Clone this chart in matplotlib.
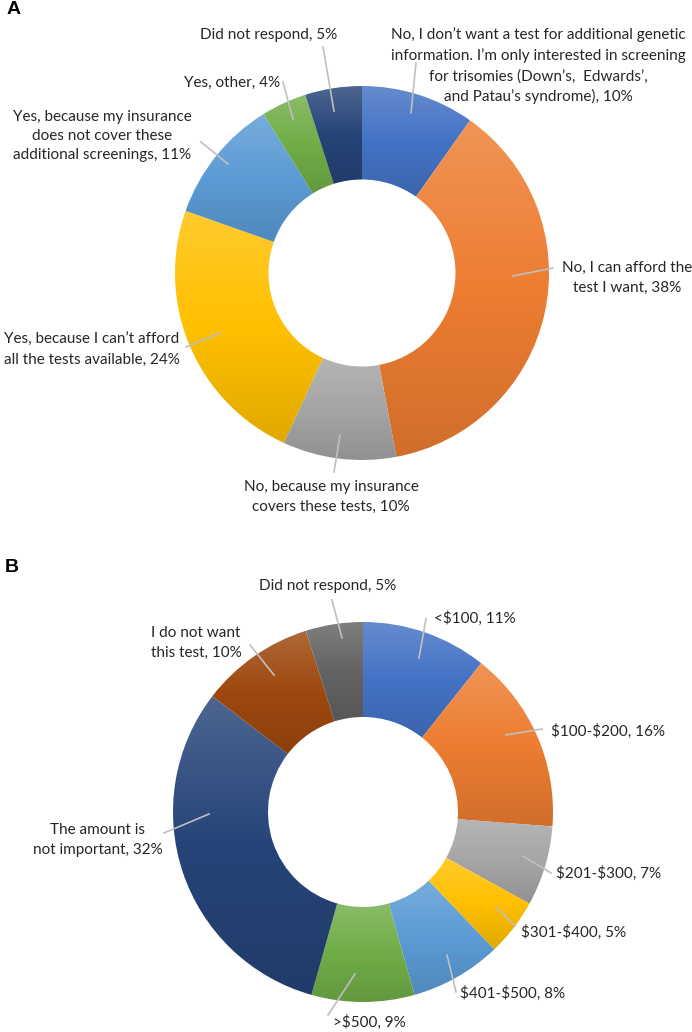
import matplotlib
matplotlib.use('Agg')
import matplotlib.pyplot as plt
import numpy as np
from matplotlib.colors import to_rgb

plt.rcParams['font.family'] = ['Lato', 'DejaVu Sans']

# panel A: why would you choose a cheaper test
a_labels = ['No, I don\u2019t want a test for additional genetic\ninformation. I\u2019m only interested in screening\nfor trisomies (Down\u2019s,  Edwards\u2019,\nand Patau\u2019s syndrome)',
            'No, I can afford the\ntest I want',
            'No, because my insurance\ncovers these tests',
            'Yes, because I can\u2019t afford\nall the tests available',
            'Yes, because my insurance\ndoes not cover these\nadditional screenings',
            'Yes, other',
            'Did not respond']
a_values = [10, 38, 10, 24, 11, 4, 5]
a_colors = ['#4472C4', '#ED7D31', '#A5A5A5', '#FFC000', '#5B9BD5', '#70AD47', '#264478']

# panel B: how much would you pay
b_labels = ['<$100', '$100-$200', '$201-$300', '$301-$400', '$401-$500', '>$500',
            'The amount is\nnot important', 'I do not want\nthis test', 'Did not respond']
b_values = [11, 16, 7, 5, 8, 9, 32, 10, 5]
b_colors = ['#4472C4', '#ED7D31', '#A5A5A5', '#FFC000', '#5B9BD5', '#70AD47',
            '#264478', '#9E480E', '#636363']

W, H = 692, 1032

# label placement in pixels: (text x, text y, line start, line end)
a_pos = [(538, 66, (416, 63), (411, 113)),
         (627, 278, (553, 268), (513, 276)),
         (331, 497, (334, 472), (340, 435)),
         (92, 350, (186, 347), (220, 333)),
         (102, 136, (201, 142), (228, 164)),
         (232, 83, (283, 82), (293, 119)),
         (269, 35, (323, 47), (334, 111))]
b_pos = [(475, 618, (426, 619), (419, 658)),
         (608, 731, (542, 729), (506, 735)),
         (609, 873, (551, 873), (523, 856)),
         (574, 932, (515, 926), (496, 907)),
         (513, 993, (456, 992), (447, 955)),
         (369, 1022, (328, 1015), (355, 974)),
         (98, 840, (164, 833), (209, 814)),
         (196, 643, (250, 645), (274, 675)),
         (328, 586, (332, 600), (342, 638))]


def gradient_fill(ax, wedge, color):
    # office style vertical gradient: lighter on top, darker at bottom
    c = np.array(to_rgb(color))
    top = c + (1 - c) * 0.18
    bot = c * 0.88
    t = np.linspace(0, 1, 200)[:, None]
    rows = np.where(t < 0.5, top + (c - top) * (t / 0.5), c + (bot - c) * ((t - 0.5) / 0.5))
    img = rows[:, None, :]
    bb = wedge.get_path().get_extents()
    im = ax.imshow(img, extent=(bb.x0, bb.x1, bb.y0, bb.y1), origin='upper',
                   aspect='auto', interpolation='bilinear', zorder=1)
    im.set_clip_path(wedge)
    wedge.set_facecolor('none')


def donut(ax, values, colors, labels, pos, cx, cy, r):
    wedges, _ = ax.pie(values, colors=colors, startangle=90, counterclock=False,
                       radius=r, center=(cx, H - cy), frame=True,
                       wedgeprops=dict(width=r * 0.5, linewidth=0, edgecolor='none'))
    for w, col in zip(wedges, colors):
        gradient_fill(ax, w, col)
    for lab, v, (tx, ty, p0, p1) in zip(labels, values, pos):
        ax.text(tx, H - ty, f'{lab}, {v}%', ha='center', va='center', fontsize=11,
                linespacing=1.5, color='#262626', parse_math=False)
        ax.plot([p0[0], p1[0]], [H - p0[1], H - p1[1]], color='#BFBFBF', lw=1.2, zorder=3)


fig = plt.figure(figsize=(W / 100, H / 100), dpi=100)
ax = fig.add_axes([0, 0, 1, 1])

donut(ax, a_values, a_colors, a_labels, a_pos, 362, 273, 187)
donut(ax, b_values, b_colors, b_labels, b_pos, 363, 812, 190)

ax.text(7, H - 10, 'A', fontsize=14, fontweight='bold', family='Liberation Sans', va='center', ha='left')
ax.text(5, H - 567, 'B', fontsize=14, fontweight='bold', family='Liberation Sans', va='center', ha='left')

ax.set_xlim(0, W)
ax.set_ylim(0, H)
ax.set_aspect('auto')
ax.axis('off')

fig.savefig('out.png', dpi=100, facecolor='white')
